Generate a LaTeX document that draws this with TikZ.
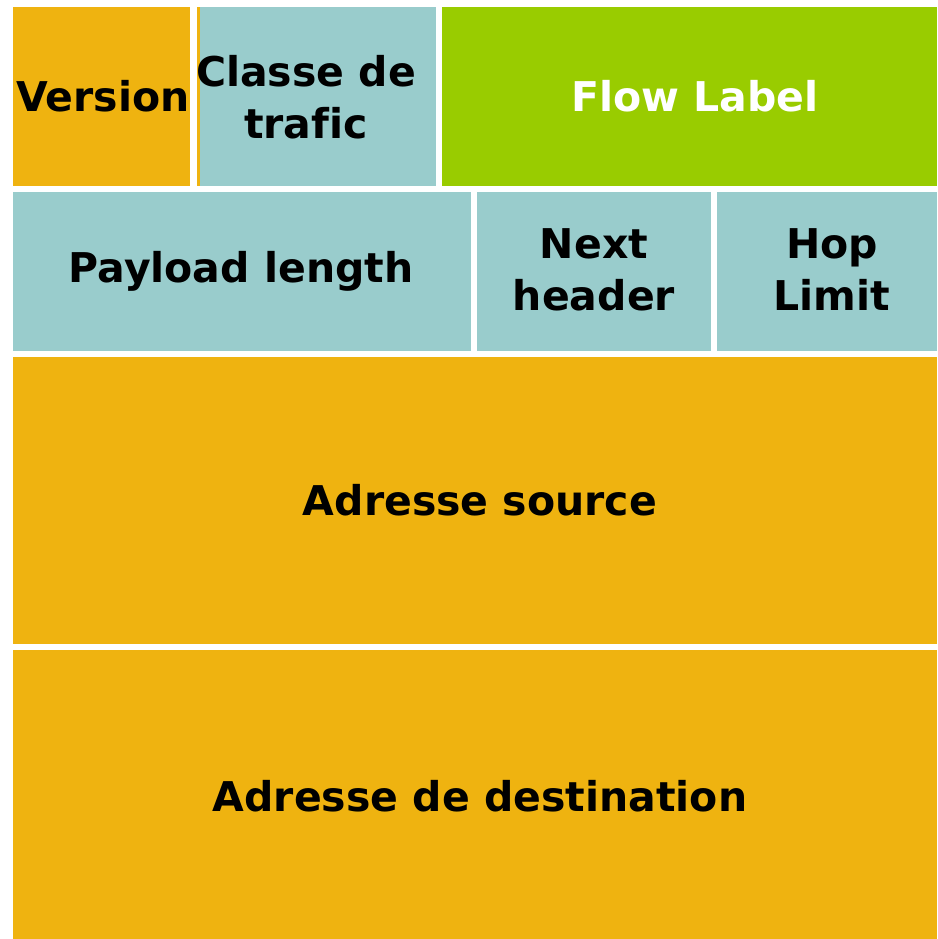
\documentclass[tikz,border=0pt]{standalone}
\usepackage{fontspec}
\setmainfont[Ligatures={NoCommon}]{DejaVu Sans}
\definecolor{orangeF}{HTML}{EFB310}
\definecolor{tealF}{HTML}{99CCCC}
\definecolor{greenF}{HTML}{99CC00}
\tikzset{
  lbl/.style={font=\bfseries\fontsize{41}{52}\selectfont, align=center, inner sep=0pt, text=black},
  wlbl/.style={lbl, text=white}
}
\begin{document}
\begin{tikzpicture}[x=1pt,y=-1pt]
\useasboundingbox (0,0) rectangle (937,939);
\fill[white] (0,0) rectangle (937,939);
% row 1
\fill[orangeF] (13,7) rectangle (190,186);
\fill[orangeF] (197,7) rectangle (200,186);
\fill[tealF] (199.5,7) rectangle (436,186);
\fill[greenF] (442,7) rectangle (937,186);
% row 2
\fill[tealF] (13,192) rectangle (471,351);
\fill[tealF] (477,192) rectangle (711,351);
\fill[tealF] (717,192) rectangle (937,351);
% rows 3-4
\fill[orangeF] (13,357) rectangle (937,644);
\fill[orangeF] (13,650) rectangle (937,939);
% labels
\node[lbl] (version) at (103,96) {Version};
\node[lbl] (classe) at (306,97) {Classe de\\trafic};
\node[wlbl] (flow) at (695,96) {Flow Label};
\node[lbl] (payload) at (241,271) {Payload length};
\node[lbl] (next) at (594,270) {Next\\header};
\node[lbl] (hop) at (832,270) {Hop\\Limit};
\node[lbl] (src) at (480,500) {Adresse source};
\node[lbl] (dst) at (480,796) {Adresse de destination};
\end{tikzpicture}
\end{document}
